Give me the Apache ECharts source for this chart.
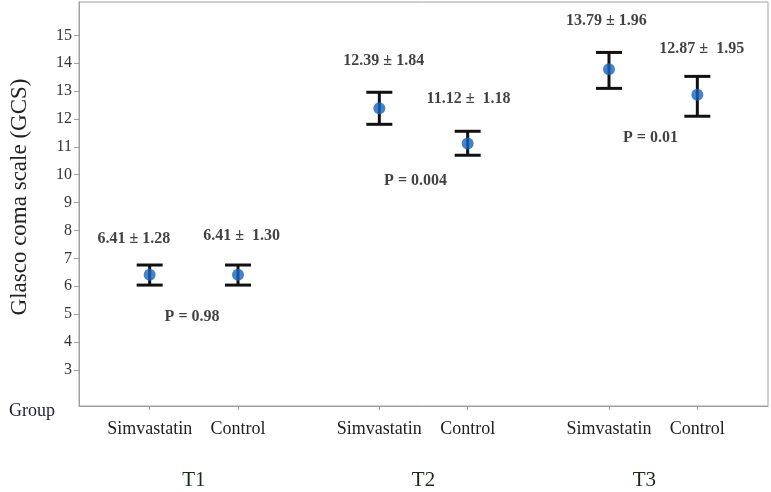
<!DOCTYPE html>
<html>
<head>
<meta charset="utf-8">
<title>GCS by group</title>
<script src="https://cdn.jsdelivr.net/npm/echarts@6/dist/echarts.min.js"></script>
<style>
  html, body { margin: 0; padding: 0; background: #fff; }
  #chart { width: 771px; height: 492px; }
</style>
</head>
<body>
<div id="chart"></div>
<script>
// positions of the groups on the x axis (T1, T2, T3 pairs)
var groupPos = [1, 2, 3.6, 4.6, 6.2, 7.2]
var groupNames = ['Simvastatin', 'Control', 'Simvastatin', 'Control', 'Simvastatin', 'Control']
var timeNames = ['T1', 'T2', 'T3']
var timePos = [1.5, 4.1, 6.6]

// mean and interval ends
var means = [6.41, 6.41, 12.39, 11.12, 13.79, 12.87]
var lower = [6.04, 6.04, 11.81, 10.70, 13.10, 12.10]
var upper = [6.76, 6.76, 12.96, 11.56, 14.39, 13.53]

var yTicks = [3, 4, 5, 6, 7, 8, 9, 10, 11, 12, 13, 14, 15]

// text notes and where they sit (data coords)
var notes = ['6.41 ± 1.28', '6.41 ±  1.30', 'P = 0.98',
  '12.39 ± 1.84', '11.12 ±  1.18', 'P = 0.004',
  '13.79 ± 1.96', '12.87 ±  1.95', 'P = 0.01']
var notesX = [0.82, 2.04, 1.48, 3.65, 4.61, 4.01, 6.17, 7.25, 6.67]
var notesY = [7.69, 7.80, 4.89, 14.07, 12.74, 9.77, 15.54, 14.53, 11.34]

var font = 'Liberation Serif'
var gray = '#a0a0a0'

var chart = echarts.init(document.getElementById('chart'))

// error bar: vertical line + two caps
function renderErrorBar(params, api) {
  var x = api.value(0)
  var top = api.coord([x, api.value(2)])
  var bottom = api.coord([x, api.value(1)])
  var half = 13
  var style = { stroke: '#111', lineWidth: 3 }
  return {
    type: 'group',
    children: [
      { type: 'line', shape: { x1: top[0], y1: top[1], x2: bottom[0], y2: bottom[1] }, style: style },
      { type: 'line', shape: { x1: top[0] - half, y1: top[1], x2: top[0] + half, y2: top[1] }, style: style },
      { type: 'line', shape: { x1: bottom[0] - half, y1: bottom[1], x2: bottom[0] + half, y2: bottom[1] }, style: style }
    ]
  }
}

var option = {
  animation: false,
  backgroundColor: '#fff',
  textStyle: { fontFamily: font },
  grid: {
    left: 79,
    right: 3,
    top: 2,
    bottom: 86,
    show: true,
    borderColor: gray,
    borderWidth: 1
  },
  xAxis: [
    {
      type: 'value',
      min: 0.2,
      max: 8.0,
      splitLine: { show: false },
      axisLine: { show: true, lineStyle: { color: gray } },
      axisTick: { show: true, length: 4, customValues: groupPos, lineStyle: { color: gray } },
      axisLabel: {
        customValues: groupPos,
        margin: 14,
        fontFamily: font,
        fontSize: 18,
        color: '#222',
        formatter: function (v) {
          var i = groupPos.indexOf(v)
          return i >= 0 ? groupNames[i] : ''
        }
      }
    },
    {
      type: 'value',
      position: 'bottom',
      min: 0.2,
      max: 8.0,
      splitLine: { show: false },
      axisLine: { show: false },
      axisTick: { show: false },
      axisLabel: {
        customValues: timePos,
        margin: 64,
        fontFamily: font,
        fontSize: 21,
        color: '#1a2a1a',
        formatter: function (v) {
          var i = timePos.indexOf(v)
          return i >= 0 ? timeNames[i] : ''
        }
      }
    }
  ],
  yAxis: {
    type: 'value',
    min: 1.7,
    max: 16.2,
    name: 'Glasco coma scale (GCS)',
    nameLocation: 'middle',
    nameGap: 48,
    nameTextStyle: { fontFamily: font, fontSize: 23, color: '#222', padding: [0, 0, 0, 14] },
    splitLine: { show: false },
    axisLine: { show: true, lineStyle: { color: gray } },
    axisTick: { show: true, length: 5, customValues: yTicks, lineStyle: { color: gray } },
    axisLabel: {
      customValues: yTicks,
      margin: 7,
      fontFamily: font,
      fontSize: 16,
      color: '#333'
    }
  },
  graphic: [
    {
      type: 'text',
      left: 9,
      top: 402,
      style: { text: 'Group', font: '18px "Liberation Serif"', fill: '#1a1a3a' }
    }
  ],
  series: [
    {
      name: 'interval',
      type: 'custom',
      renderItem: renderErrorBar,
      encode: { x: 0, y: [1, 2] },
      data: groupPos.map(function (p, i) { return [p, lower[i], upper[i]] }),
      z: 2
    },
    {
      name: 'mean',
      type: 'scatter',
      symbolSize: 12,
      itemStyle: { color: '#1565c0' },
      data: groupPos.map(function (p, i) { return [p, means[i]] }),
      z: 3
    },
    {
      name: 'notes',
      type: 'scatter',
      symbolSize: 1,
      itemStyle: { color: 'rgba(0,0,0,0)' },
      silent: true,
      label: {
        show: true,
        position: 'inside',
        fontFamily: font,
        fontWeight: 'bold',
        fontSize: 16,
        color: '#111',
        formatter: function (p) { return p.name }
      },
      data: notes.map(function (t, i) { return { name: t, value: [notesX[i], notesY[i]] } }),
      z: 4
    }
  ]
}

chart.setOption(option)
</script>
</body>
</html>
